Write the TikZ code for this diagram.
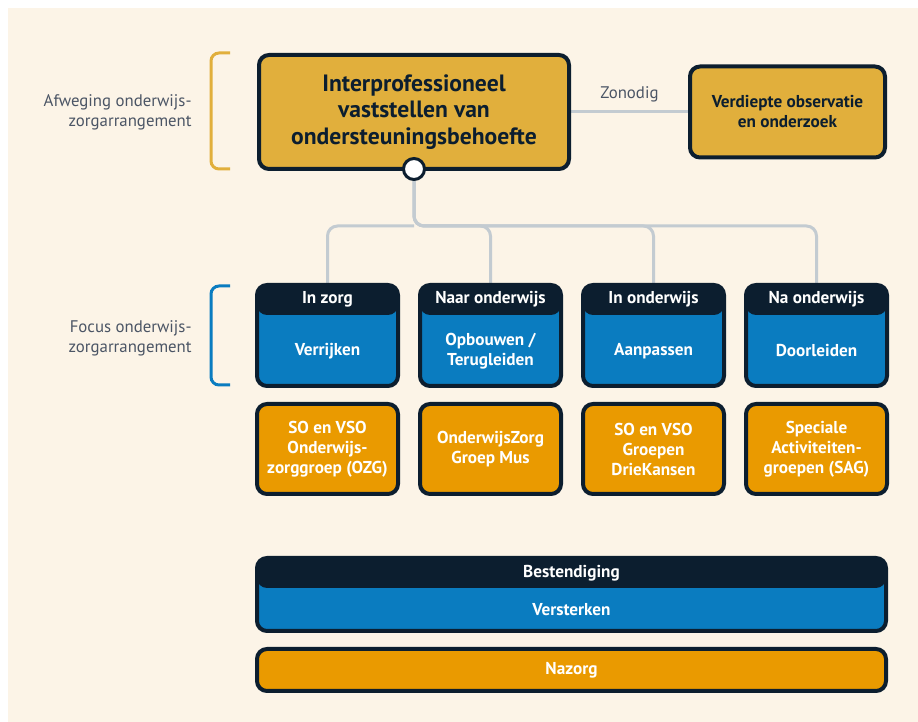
\documentclass[tikz,border=0pt]{standalone}
\usepackage{fontspec}
\setmainfont{PT Sans}
\usetikzlibrary{positioning,calc,backgrounds}
\definecolor{creme}{HTML}{FCF4E7}
\definecolor{donker}{HTML}{0C1E2F}
\definecolor{goud}{HTML}{E1AF3C}
\definecolor{blauw}{HTML}{0A7CC0}
\definecolor{oranje}{HTML}{EA9A00}
\definecolor{lijngrijs}{HTML}{C3CBD1}
\definecolor{tekstgrijs}{HTML}{4B5565}
\tikzset{
  blok/.style={rectangle,rounded corners=5pt,draw=donker,line width=2pt,outer sep=0pt,inner sep=1pt,
    align=center,font=\bfseries\fontsize{8.6}{10}\selectfont},
  goudblok/.style={blok,fill=goud,text=donker},
  oranjeblok/.style={blok,fill=oranje,text=white,minimum width=70.5pt,minimum height=45pt},
  kopblok/.style={blok,fill=blauw,minimum width=70.5pt,minimum height=50.5pt,
    path picture={\fill[donker] (path picture bounding box.north west)
      rectangle ([yshift=-15pt]path picture bounding box.north east);}},
  wittekst/.style={text=white,align=center,font=\bfseries\fontsize{8.6}{10}\selectfont},
  knop/.style={circle,fill=white,draw=donker,line width=1.5pt,minimum size=10.5pt,inner sep=0pt},
  link/.style={draw=lijngrijs,line width=1.5pt,rounded corners=5pt},
  haak/.style={line width=1.5pt,rounded corners=4pt},
  zijtekst/.style={anchor=east,align=right,inner sep=0pt,text=tekstgrijs,font=\fontsize{8.4}{10}\selectfont}
}

\begin{document}
\begin{tikzpicture}[x=0.5pt,y=-0.5pt]
  \useasboundingbox (0,0) rectangle (918,722);
  % bovenste rij
  \node[goudblok,minimum width=155pt,minimum height=57pt,font=\bfseries\fontsize{11.8}{13.3}\selectfont]
    (hoofd) at (414,112) {Interprofessioneel\\vaststellen van\\ondersteuningsbehoefte};
  \node[goudblok,minimum width=97.5pt,minimum height=45.5pt,right=60.5pt of hoofd]
    (verdiept) {Verdiepte observatie\\en onderzoek};
  \node[knop] (knop) at (hoofd.south) {};
  \coordinate (splitsing) at ($(knop)+(0,57)$);
  % kolommen
  \node[kopblok] (zorg) at (327.5,335.5) {};
  \node[kopblok,right=11pt of zorg] (naarond) {};
  \node[kopblok,right=11pt of naarond] (inond) {};
  \node[kopblok,right=11pt of inond] (naond) {};
  \node[wittekst] (zorgkop) at ($(zorg.north)+(0,14)$) {In zorg};
  \node[wittekst] (naarkop) at ($(naarond.north)+(0,14)$) {Naar onderwijs};
  \node[wittekst] (inkop) at ($(inond.north)+(0,14)$) {In onderwijs};
  \node[wittekst] (nakop) at ($(naond.north)+(0,14)$) {Na onderwijs};
  \node[wittekst] (verrijken) at ($(zorg.center)+(0,15.5)$) {Verrijken};
  \node[wittekst] (opbouwen) at ($(naarond.center)+(0,15.5)$) {Opbouwen /\\Terugleiden};
  \node[wittekst] (aanpassen) at ($(inond.center)+(0,15.5)$) {Aanpassen};
  \node[wittekst] (doorleiden) at ($(naond.center)+(0,15.5)$) {Doorleiden};
  \node[oranjeblok,below=9pt of zorg] (ozg) {SO en VSO\\Onderwijs-\\zorggroep (OZG)};
  \node[oranjeblok,below=9pt of naarond] (mus) {OnderwijsZorg\\Groep Mus};
  \node[oranjeblok,below=9pt of inond] (driekansen) {SO en VSO\\Groepen\\DrieKansen};
  \node[oranjeblok,below=9pt of naond] (sag) {Speciale\\Activiteiten-\\groepen (SAG)};
  % onderste balken
  \node[kopblok,minimum width=314.5pt,minimum height=36.5pt] (bestendiging) at (571.5,594.5) {};
  \node[wittekst] (bestkop) at ($(bestendiging.north)+(0,15)$) {Bestendiging};
  \node[wittekst] (versterken) at ($(bestendiging.center)+(0,15.5)$) {Versterken};
  \node[oranjeblok,minimum width=314.5pt,minimum height=21pt,below=9pt of bestendiging] (nazorg) {Nazorg};
  % zijkant
  \node[zijtekst] (afweging) at (192,112) {Afweging onderwijs-\\zorgarrangement};
  \node[zijtekst] (focus) at (192,338) {Focus onderwijs-\\zorgarrangement};
  \draw[haak,goud] (230,53) -- (211,53) -- (211,169) -- (230,169);
  \draw[haak,blauw] (230,286) -- (211,286) -- (211,385) -- (230,385);
  \begin{scope}[on background layer]
    \fill[creme] (8,8) rectangle (918,722);
    \draw[link] (hoofd) -- node[midway,above=1pt,text=tekstgrijs,font=\fontsize{8.4}{10}\selectfont] (zonodig) {Zonodig} (verdiept);
    \draw[link] (knop) -- (splitsing) -| (naond.north);
    \draw[link] (knop) -- (splitsing) -| (inond.north);
    \draw[link] (knop) -- (splitsing) -| (naarond.north);
    \draw[link] (splitsing) -| (zorg.north);
  \end{scope}
\end{tikzpicture}
\end{document}
